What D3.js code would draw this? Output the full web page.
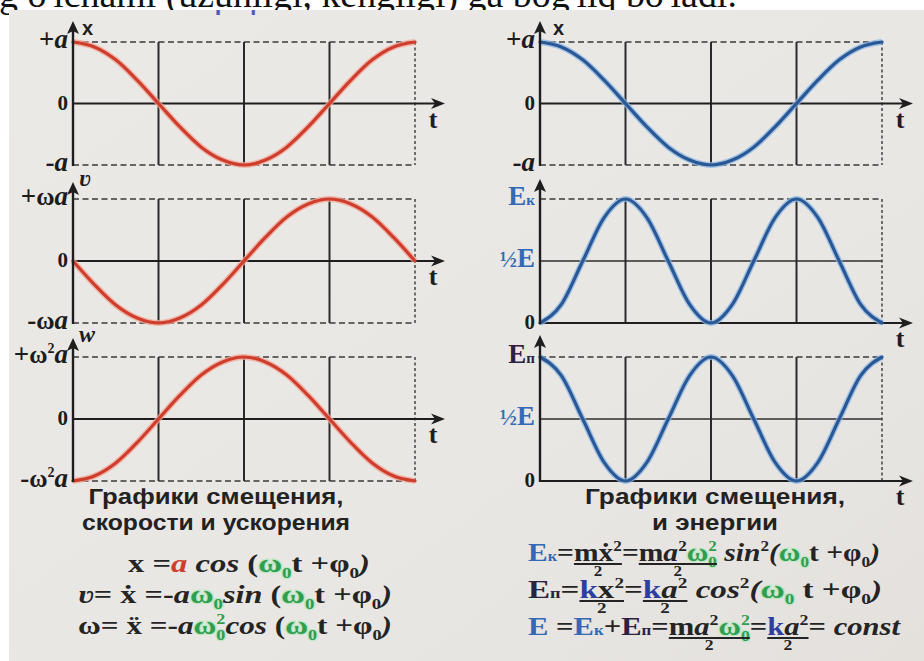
<!DOCTYPE html>
<html><head><meta charset="utf-8">
<script src="https://cdn.jsdelivr.net/npm/d3@7"></script>
<style>html,body{margin:0;padding:0;background:#fff;overflow:hidden}</style>
</head><body>
<svg id="chart" width="924" height="661"></svg>
<script>
// Phase samples: sixteen equal steps across one full period (0 … 2π)
const phaseSteps = [0, 1, 2, 3, 4, 5, 6, 7, 8, 9, 10, 11, 12, 13, 14, 15, 16];
const quarterMarks = [4, 8, 12];

// Left column: displacement, velocity, acceleration (in units of their amplitudes)
const displacement = [1, 0.92, 0.71, 0.38, 0, -0.38, -0.71, -0.92, -1, -0.92, -0.71, -0.38, 0, 0.38, 0.71, 0.92, 1];
const velocity     = [0, -0.38, -0.71, -0.92, -1, -0.92, -0.71, -0.38, 0, 0.38, 0.71, 0.92, 1, 0.92, 0.71, 0.38, 0];
const acceleration = [-1, -0.92, -0.71, -0.38, 0, 0.38, 0.71, 0.92, 1, 0.92, 0.71, 0.38, 0, -0.38, -0.71, -0.92, -1];

// Right column: displacement, kinetic and potential energy (in units of E)
const kinetic   = [0, 0.15, 0.5, 0.85, 1, 0.85, 0.5, 0.15, 0, 0.15, 0.5, 0.85, 1, 0.85, 0.5, 0.15, 0];
const potential = [1, 0.85, 0.5, 0.15, 0, 0.15, 0.5, 0.85, 1, 0.85, 0.5, 0.15, 0, 0.15, 0.5, 0.85, 1];

// Level values and their labels
const symLevels = [1, 0, -1];
const energyLevels = [1, 0.5, 0];
const leftTickLabels  = [['+a', '0', '-a'], ['+ωa', '0', '-ωa'], ['+ω²a', '0', '-ω²a']];
const rightTickLabels = [['+a', '0', '-a'], ['Eк', '½E', '0'], ['Eп', '½E', '0']];
const leftAxisNames  = ['x', 'ʋ', 'w'];
const rightAxisNames = ['x', '', ''];
const leftTitle  = ['Графики смещения,', 'скорости и ускорения'];
const rightTitle = ['Графики смещения,', 'и энергии'];
const headerText = "g o'lchami (uzunligi, kengligi) ga bog'liq bo'ladi.";
const hiddenHeading = 'Графики колебаний';

const W = 924, H = 661;
const SERIF = "'Liberation Serif','Times New Roman',serif";
const SANS = "'Liberation Sans',Arial,sans-serif";
const INK = '#242424';
const RED = '#cf3d2c', RED_HALO = '#f2a596';
const BLUE = '#2a5894', BLUE_HALO = '#8ab6e6';
const LBLUE = '#3569b4', GREEN = '#2f9e4e', PURPLE = '#2b2140';

const svg = d3.select('#chart');
const defs = svg.append('defs');

// page strip with the running text, then the printed sheet
svg.append('rect').attr('width', W).attr('height', H).attr('fill', '#fff');
const header = svg.append('text')
  .attr('x', -1).attr('y', 7)
  .attr('font-family', SERIF).attr('font-size', 34).attr('fill', '#111')
  .text(headerText);
const hw = header.node().getComputedTextLength();
header.attr('font-size', 34 * 738 / hw);

const sheetGrad = defs.append('linearGradient')
  .attr('id', 'sheet').attr('x1', 0).attr('y1', 0).attr('x2', 1).attr('y2', 1);
sheetGrad.append('stop').attr('offset', 0).attr('stop-color', '#ebe9e6');
sheetGrad.append('stop').attr('offset', 0.6).attr('stop-color', '#e9e7e4');
sheetGrad.append('stop').attr('offset', 1).attr('stop-color', '#e4e1dd');
svg.append('rect').attr('x', 9).attr('y', 10).attr('width', W - 9).attr('height', H - 10)
  .attr('fill', 'url(#sheet)');

// heading of the sheet: only its descenders show below the page strip
defs.append('clipPath').attr('id', 'sheetClip')
  .append('rect').attr('x', 9).attr('y', 10).attr('width', W - 9).attr('height', H - 10);
svg.append('text')
  .attr('clip-path', 'url(#sheetClip)')
  .attr('x', 320).attr('y', 9.5).attr('text-anchor', 'middle')
  .attr('font-family', SANS).attr('font-weight', 'bold').attr('font-size', 24)
  .attr('fill', '#2a3aa8').attr('opacity', 0.8)
  .text(hiddenHeading);

// ---------- panels ----------
const xLeft  = d3.scaleLinear().domain([0, 16]).range([73, 415]);
const xRight = d3.scaleLinear().domain([0, 16]).range([540, 882]);

const rows = [
  { top: 42,  bottom: 165, axisTopL: 21,  axisTopR: 21 },
  { top: 199, bottom: 323, axisTopL: 182, axisTopR: 179 },
  { top: 357, bottom: 481, axisTopL: 338, axisTopR: 335 }
];

const panels = [
  { x: xLeft, row: 0, domain: [-1, 1], values: displacement, levels: symLevels, labels: leftTickLabels[0], name: leftAxisNames[0], color: RED, halo: RED_HALO, kind: 'sym', side: 'L' },
  { x: xLeft, row: 1, domain: [-1, 1], values: velocity, levels: symLevels, labels: leftTickLabels[1], name: leftAxisNames[1], color: RED, halo: RED_HALO, kind: 'sym', side: 'L' },
  { x: xLeft, row: 2, domain: [-1, 1], values: acceleration, levels: symLevels, labels: leftTickLabels[2], name: leftAxisNames[2], color: RED, halo: RED_HALO, kind: 'sym', side: 'L' },
  { x: xRight, row: 0, domain: [-1, 1], values: displacement, levels: symLevels, labels: rightTickLabels[0], name: rightAxisNames[0], color: BLUE, halo: BLUE_HALO, kind: 'sym', side: 'R' },
  { x: xRight, row: 1, domain: [0, 1], values: kinetic, levels: energyLevels, labels: rightTickLabels[1], name: rightAxisNames[1], color: BLUE, halo: BLUE_HALO, kind: 'energy', side: 'R' },
  { x: xRight, row: 2, domain: [0, 1], values: potential, levels: energyLevels, labels: rightTickLabels[2], name: rightAxisNames[2], color: BLUE, halo: BLUE_HALO, kind: 'energy', side: 'R' }
];

function labelColor(str) {
  if (str === 'Eк' || str === '½E') return LBLUE;
  if (str === 'Eп') return PURPLE;
  return '#1c1c1c';
}

// Tick label with mixed styles: italic amplitude "a", superscripts, small subscripts
function tickLabel(g, xEnd, y, str) {
  const t = g.append('text')
    .attr('x', xEnd).attr('y', y).attr('text-anchor', 'end')
    .attr('font-family', SERIF).attr('font-weight', 'bold')
    .attr('font-size', 27).attr('fill', labelColor(str));
  let shift = 0;
  for (const ch of str) {
    const s = t.append('tspan');
    let dy = 0;
    if (ch === '²') { s.text('2').attr('font-size', 14); dy = -10; }
    else if (ch === 'к' || ch === 'п') { s.text(ch).attr('font-size', 15); }
    else if (ch === 'a') { s.text(ch).attr('font-style', 'italic'); }
    else if (ch === '0') { s.text(ch).attr('font-size', 21); }
    else if (ch === '½') { s.text(ch).attr('font-size', 23); }
    else if (ch === 'ω') { s.text(ch).attr('font-size', 25); }
    else { s.text(ch); }
    if (dy - shift !== 0) s.attr('dy', dy - shift);
    shift = dy;
  }
}

panels.forEach(p => {
  const r = rows[p.row];
  const x = p.x;
  const y = d3.scaleLinear().domain(p.domain).range([r.bottom, r.top]);
  const g = svg.append('g');
  const x0 = x(0), x1 = x(16);
  const yMax = y(p.domain[1]), yMin = y(p.domain[0]);
  const yZero = y(0);
  const tipX = p.side === 'L' ? 445 : 913;
  const axisTop = p.side === 'L' ? r.axisTopL : r.axisTopR;

  // dashed frame: top, right and (for ± panels) bottom
  const dash = { stroke: '#3a3a3a', 'stroke-width': 1.6, 'stroke-dasharray': '6,3.5' };
  const hline = (yy, style) => {
    const l = g.append('line').attr('x1', x0).attr('x2', x1).attr('y1', yy).attr('y2', yy);
    Object.entries(style).forEach(([k, v]) => l.attr(k, v));
  };
  hline(yMax, dash);
  if (p.kind === 'sym') hline(yMin, dash);
  else hline(y(0.5), { stroke: '#2e2e2e', 'stroke-width': 1.5 });
  g.append('line').attr('x1', x1).attr('x2', x1).attr('y1', yMax).attr('y2', yMin)
    .attr('stroke', '#444').attr('stroke-width', 1.5).attr('stroke-dasharray', '3,2.5');

  // quarter-period verticals
  g.selectAll('line.q').data(quarterMarks).join('line')
    .attr('x1', d => x(d)).attr('x2', d => x(d))
    .attr('y1', yMax).attr('y2', yMin)
    .attr('stroke', '#2a2a2a').attr('stroke-width', 2);

  // time axis with arrow
  g.append('line').attr('x1', x0).attr('x2', tipX - 8).attr('y1', yZero).attr('y2', yZero)
    .attr('stroke', '#1e1e1e').attr('stroke-width', 2.2);
  g.append('path')
    .attr('d', `M${tipX},${yZero} L${tipX - 14},${yZero - 5.5} L${tipX - 10},${yZero} L${tipX - 14},${yZero + 5.5} Z`)
    .attr('fill', '#1e1e1e');
  g.append('text')
    .attr('x', p.side === 'L' ? 433 : 900).attr('y', yZero + 24).attr('text-anchor', 'middle')
    .attr('font-family', SERIF).attr('font-weight', 'bold').attr('font-size', 26)
    .attr('fill', '#1e1e1e').text('t');

  // the curve
  const line = d3.line()
    .x((d, i) => x(phaseSteps[i]))
    .y(d => y(d))
    .curve(d3.curveMonotoneX);
  g.append('path').attr('d', line(p.values)).attr('fill', 'none')
    .attr('stroke', p.halo).attr('stroke-width', 6).attr('opacity', 0.75);
  g.append('path').attr('d', line(p.values)).attr('fill', 'none')
    .attr('stroke', p.color).attr('stroke-width', 3.2).attr('stroke-linecap', 'round');

  // value axis with arrow
  g.append('line').attr('x1', x0).attr('x2', x0).attr('y1', yMin + 1).attr('y2', axisTop + 8)
    .attr('stroke', '#1e1e1e').attr('stroke-width', 2.4);
  g.append('path')
    .attr('d', `M${x0},${axisTop} L${x0 - 6},${axisTop + 13} L${x0},${axisTop + 10} L${x0 + 6},${axisTop + 13} Z`)
    .attr('fill', '#1e1e1e');
  if (p.name) {
    const isX = p.name === 'x';
    g.append('text')
      .attr('x', x0 + (isX ? (p.side === 'L' ? 9 : 13) : 6)).attr('y', axisTop + (isX ? 14 : 4))
      .attr('font-family', isX ? SANS : SERIF).attr('font-weight', 'bold')
      .attr('font-style', isX ? 'normal' : 'italic')
      .attr('font-size', isX ? 20 : 24).attr('fill', '#1e1e1e')
      .text(p.name);
  }

  // level labels
  p.levels.forEach((lv, i) => {
    tickLabel(g, x0 - 5, y(lv) + 6, p.labels[i]);
  });
});

// ---------- captions ----------
function caption(cx, lines, widths) {
  lines.forEach((s, i) => {
    svg.append('text').attr('x', cx).attr('y', 504 + i * 26).attr('text-anchor', 'middle')
      .attr('font-family', SANS).attr('font-weight', 'bold').attr('font-size', 22)
      .attr('fill', '#222')
      .attr('textLength', widths[i]).attr('lengthAdjust', 'spacingAndGlyphs')
      .text(s);
  });
}
caption(216, leftTitle, [255, 268]);
caption(715, rightTitle, [260, 126]);

// ---------- formulas ----------
const FS = 26;
const N = (t, c) => ({ t, c: c || INK });
const I = (t, c) => ({ t, c: c || INK, it: true });
const G = () => ({ t: 'ω', c: GREEN, hl: '#bfe6c6' });
const SUB = (t, c, hl) => ({ t, c: c || INK, s: 0.58, dy: 6, hl });
const SUP = (t, c) => ({ t, c: c || INK, s: 0.58, dy: -10 });
const STACK = (a, b, c, hl) => ({ stack: [SUP(a, c), SUB(b, c, hl)] });
const FRAC = (items) => ({ frac: items });
const Om0 = () => [G(), SUB('0', GREEN, '#bfe6c6')];

function put(g, x, y, it) {
  const el = g.append('text').attr('x', x).attr('y', y + (it.dy || 0))
    .attr('font-family', SERIF).attr('font-weight', 'bold')
    .attr('font-style', it.it ? 'italic' : 'normal')
    .attr('font-size', FS * (it.s || 1)).attr('fill', it.c)
    .style('white-space', 'pre')
    .text(it.t);
  if (it.hl) el.attr('stroke', it.hl).attr('stroke-width', 2.5).attr('paint-order', 'stroke');
  return el.node().getComputedTextLength();
}

function layout(g, x, y, items) {
  for (const it of items) {
    if (it.frac) {
      const start = x;
      x = layout(g, x, y, it.frac);
      g.append('line').attr('x1', start).attr('x2', x).attr('y1', y + 3).attr('y2', y + 3)
        .attr('stroke', INK).attr('stroke-width', 2);
      g.append('text').attr('x', (start + x) / 2).attr('y', y + 15).attr('text-anchor', 'middle')
        .attr('font-family', SERIF).attr('font-weight', 'bold').attr('font-size', 15)
        .attr('fill', INK).text('2');
    } else if (it.stack) {
      const w = Math.max(...it.stack.map(s => put(g, x, y, s)));
      x += w;
    } else {
      x += put(g, x, y, it);
    }
  }
  return x;
}

// one formula line, stretched horizontally to its printed width
function formula(x0, xEnd, y, items) {
  const g = svg.append('g');
  const end = layout(g, x0, y, items);
  const sx = (xEnd - x0) / (end - x0);
  g.attr('transform', `translate(${x0},0) scale(${sx},1) translate(${-x0},0)`);
}

formula(128, 370, 572, [N('x'), N(' ='), I('a', RED), I(' cos'), N(' ('), ...Om0(), N('t'), N(' +'), N('φ'), SUB('0'), I(')')]);
formula(78, 392, 603, [I('ʋ'), N('= '), N('ẋ'), N(' =-'), I('a'), ...Om0(), I('sin'), N(' ('), ...Om0(), N('t'), N(' +'), N('φ'), SUB('0'), I(')')]);
formula(78, 392, 634, [N('ω'), N('= '), N('ẍ'), N(' =-'), I('a'), G(), STACK('2', '0', GREEN, '#bfe6c6'), I('cos'), N(' ('), ...Om0(), N('t'), N(' +'), N('φ'), SUB('0'), I(')')]);

formula(528, 880, 561, [N('E', LBLUE), { t: 'к', c: LBLUE, s: 0.55 }, N('='),
  FRAC([N('m'), N('ẋ'), SUP('2')]), N('='),
  FRAC([N('m'), I('a'), SUP('2'), G(), STACK('2', '0', GREEN, '#bfe6c6')]),
  I(' sin'), SUP('2'), I('('), ...Om0(), N('t'), N(' +'), N('φ'), SUB('0'), I(')')]);
formula(528, 882, 598, [N('E', PURPLE), { t: 'п', c: PURPLE, s: 0.55 }, N('='),
  FRAC([N('k', '#2d3f9e'), N('x'), SUP('2')]), N('='),
  FRAC([N('k', '#2d3f9e'), I('a'), SUP('2')]),
  I(' cos'), SUP('2'), I('('), ...Om0(), N(' t'), N(' +'), N('φ'), SUB('0'), I(')')]);
formula(528, 900, 635, [N('E', LBLUE), N(' ='), N('E', LBLUE), { t: 'к', c: LBLUE, s: 0.55 }, N('+'),
  N('E', PURPLE), { t: 'п', c: PURPLE, s: 0.55 }, N('='),
  FRAC([N('m'), I('a'), SUP('2'), G(), STACK('2', '0', GREEN, '#bfe6c6')]), N('='),
  FRAC([N('k', '#2d3f9e'), I('a'), SUP('2')]), N('= '), I('const')]);
</script>
</body></html>
